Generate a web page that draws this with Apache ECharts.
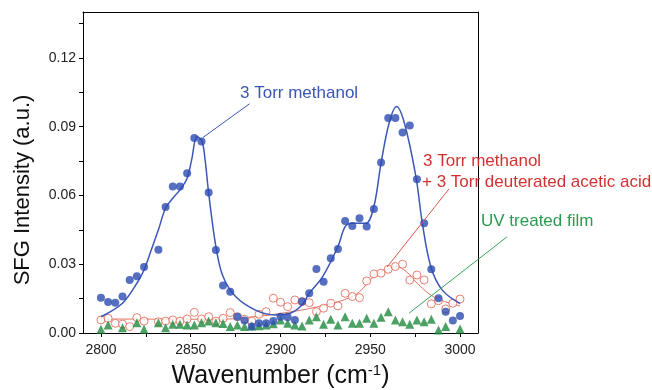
<!DOCTYPE html>
<html>
<head>
<meta charset="utf-8">
<script src="https://cdn.jsdelivr.net/npm/echarts@6/dist/echarts.min.js"></script>
<style>
  html, body { margin: 0; padding: 0; background: #fff; }
  #chart { width: 652px; height: 390px; }
</style>
</head>
<body>
<div id="chart"></div>
<script>
// 3 Torr methanol: points and fit
const methanolX = [2800, 2804, 2808, 2812, 2816, 2820, 2824, 2832, 2836, 2840, 2844, 2848, 2852, 2856, 2860, 2864, 2868, 2872, 2876, 2880, 2884, 2888, 2892, 2896, 2900, 2904, 2908, 2912, 2916, 2920, 2924, 2928, 2932, 2936, 2940, 2944, 2948, 2952, 2956, 2960, 2964, 2968, 2972, 2976, 2980, 2984, 2988, 2992, 2996, 3000];
const methanolY = [0.0154, 0.0135, 0.0132, 0.0159, 0.0231, 0.0247, 0.0288, 0.0363, 0.0550, 0.0639, 0.0639, 0.0697, 0.0850, 0.0835, 0.0613, 0.0362, 0.0207, 0.0180, 0.0071, 0.0054, 0.0028, 0.0042, 0.0042, 0.0052, 0.0071, 0.0069, 0.0057, 0.0137, 0.0173, 0.0279, 0.0224, 0.0326, 0.0366, 0.0489, 0.0467, 0.0501, 0.0464, 0.0541, 0.0744, 0.0938, 0.0938, 0.0875, 0.0905, 0.0671, 0.0479, 0.0278, 0.0152, 0.0093, 0.0054, 0.0074];
const methanolFitX = [2800, 2812, 2820, 2824, 2828, 2832, 2836, 2840, 2844, 2848, 2850.5, 2853.5, 2856.3, 2858, 2860, 2864, 2868, 2875, 2886, 2897, 2905, 2912, 2916, 2923.5, 2932, 2936, 2940, 2947.5, 2952, 2956, 2960.5, 2964.6, 2969, 2975.4, 2979, 2983.7, 2990, 3000];
const methanolFitY = [0.0071, 0.0130, 0.0217, 0.0275, 0.0362, 0.0450, 0.0545, 0.0588, 0.0624, 0.0675, 0.0755, 0.0857, 0.0835, 0.0755, 0.0610, 0.0377, 0.0246, 0.0159, 0.0100, 0.0079, 0.0085, 0.0122, 0.0173, 0.0246, 0.0377, 0.0464, 0.0479, 0.0479, 0.0552, 0.0741, 0.0916, 0.0988, 0.0916, 0.0683, 0.0479, 0.0290, 0.0188, 0.0128];

// 3 Torr methanol + 3 Torr deuterated acetic acid
const mixX = [2800, 2804, 2808, 2812, 2816, 2820, 2824, 2832, 2836, 2840, 2844, 2848, 2852, 2856, 2860, 2864, 2868, 2872, 2876, 2880, 2884, 2888, 2892, 2896, 2900, 2904, 2908, 2912, 2916, 2920, 2924, 2928, 2932, 2936, 2940, 2944, 2948, 2952, 2956, 2960, 2964, 2968, 2972, 2976, 2980, 2984, 2988, 2992, 2996, 3000];
const mixY = [0.0057, 0.0064, 0.0042, 0.0039, 0.0028, 0.0067, 0.0052, 0.0049, 0.0052, 0.0057, 0.0052, 0.0061, 0.0090, 0.0061, 0.0071, 0.0052, 0.0064, 0.0089, 0.0071, 0.0060, 0.0052, 0.0082, 0.0093, 0.0152, 0.0134, 0.0115, 0.0144, 0.0137, 0.0132, 0.0093, 0.0108, 0.0130, 0.0118, 0.0173, 0.0159, 0.0154, 0.0227, 0.0258, 0.0261, 0.0278, 0.0290, 0.0300, 0.0231, 0.0253, 0.0231, 0.0127, 0.0141, 0.0105, 0.0130, 0.0148];
const mixFitX = [2800, 2866, 2885, 2903, 2921, 2938, 2944, 2952, 2960.5, 2964, 2970, 2977, 2985, 2994, 3000];
const mixFitY = [0.0061, 0.0060, 0.0071, 0.0089, 0.0115, 0.0152, 0.0180, 0.0246, 0.0283, 0.0290, 0.0268, 0.0210, 0.0159, 0.0130, 0.0118];

// UV treated film
const uvX = [2800, 2804, 2812, 2820, 2824, 2832, 2836, 2840, 2844, 2848, 2852, 2856, 2860, 2864, 2868, 2872, 2876, 2880, 2884, 2888, 2892, 2896, 2900, 2904, 2908, 2912, 2916, 2920, 2924, 2928, 2932, 2936, 2940, 2944, 2948, 2952, 2956, 2960, 2964, 2968, 2972, 2976, 2980, 2984, 2988, 2992, 3000];
const uvY = [0.0016, 0.0035, 0.0023, 0.0045, 0.0016, 0.0045, 0.0023, 0.0038, 0.0038, 0.0035, 0.0035, 0.0045, 0.0052, 0.0045, 0.0041, 0.0028, 0.0035, 0.0028, 0.0030, 0.0032, 0.0035, 0.0040, 0.0057, 0.0042, 0.0035, 0.0031, 0.0057, 0.0071, 0.0038, 0.0060, 0.0035, 0.0071, 0.0042, 0.0042, 0.0064, 0.0042, 0.0069, 0.0093, 0.0057, 0.0049, 0.0038, 0.0057, 0.0049, 0.0060, 0.0013, 0.0028, 0.0017];

// ticks (major ones get labels, minor ones only a tick)
const xTicks = [2800, 2850, 2900, 2950, 3000];
const xMinorTicks = [2825, 2875, 2925, 2975];
const yTicks = [0, 0.03, 0.06, 0.09, 0.12];
const yMinorTicks = [0.015, 0.045, 0.075, 0.105, 0.135];

// annotation leader lines, [start, end] in data units
const methanolLeader = [[2882.8, 0.1000], [2856.7, 0.0852]];
const mixLeader = [[2993.9, 0.0629], [2959.4, 0.0288]];
const uvLeader = [[3026.1, 0.0419], [2971.7, 0.0087]];

const BLUE = "#2c4bb0";
const BLUE_LINE = "#3c57b8";
const RED = "#e5604e";
const RED_TEXT = "#d33131";
const GREEN = "#1f8a3e";
const GREEN_TEXT = "#2a9a4e";
const FONT = "Liberation Sans, Arial, sans-serif";

const zip = (xs, ys) => xs.map((x, i) => [x, ys[i]]);

const chart = echarts.init(document.getElementById("chart"), null, { renderer: "canvas" });

const axisFont = { color: "#222", fontSize: 14, fontFamily: FONT };
const black = { color: "#000", width: 1 };

const option = {
  animation: false,
  backgroundColor: "#fff",
  grid: { left: 83, right: 174, top: 12, bottom: 57, outerBoundsMode: "none", containLabel: false },
  xAxis: [
    {
      type: "value", min: 2790, max: 3010, position: "bottom",
      axisLine: { show: true, onZero: false, lineStyle: black },
      axisTick: { show: true, length: 4, lineStyle: black, customValues: xTicks.concat(xMinorTicks) },
      axisLabel: { show: true, margin: 10, customValues: xTicks, formatter: v => String(v), ...axisFont },
      splitLine: { show: false },
      name: "Wavenumber (cm{sup|-1})",
      nameLocation: "middle",
      nameGap: 30,
      nameTextStyle: {
        color: "#111", fontSize: 25, fontFamily: FONT,
        rich: { sup: { fontSize: 15, verticalAlign: "top", padding: [0, 0, 12, 0], color: "#111", fontFamily: FONT } }
      }
    },
    {
      type: "value", min: 2790, max: 3010, position: "top",
      axisLine: { show: true, onZero: false, lineStyle: black },
      axisTick: { show: false }, axisLabel: { show: false }, splitLine: { show: false }
    }
  ],
  yAxis: [
    {
      type: "value", min: 0, max: 0.14, position: "left",
      axisLine: { show: true, onZero: false, lineStyle: black },
      axisTick: { show: true, length: 4, lineStyle: black, customValues: yTicks.concat(yMinorTicks) },
      axisLabel: { show: true, margin: 7, customValues: yTicks, formatter: v => v.toFixed(2), ...axisFont },
      splitLine: { show: false }
    },
    {
      type: "value", min: 0, max: 0.14, position: "right",
      axisLine: { show: true, onZero: false, lineStyle: black },
      axisTick: { show: false }, axisLabel: { show: false }, splitLine: { show: false }
    }
  ],
  series: [
    {
      name: "mix fit", type: "line", smooth: 0.4, symbol: "none",
      lineStyle: { color: "#e2735f", width: 1 },
      data: zip(mixFitX, mixFitY), z: 2
    },
    {
      name: "mix", type: "scatter", symbol: "circle", symbolSize: 8,
      itemStyle: { color: "#fff", borderColor: RED, borderWidth: 1 },
      data: zip(mixX, mixY), z: 3
    },
    {
      name: "uv", type: "scatter", symbol: "triangle", symbolSize: 9,
      itemStyle: { color: GREEN },
      data: zip(uvX, uvY), z: 3
    },
    {
      name: "methanol fit", type: "line", smooth: 0.35, symbol: "none",
      lineStyle: { color: BLUE_LINE, width: 1.5 },
      data: zip(methanolFitX, methanolFitY), z: 4
    },
    {
      name: "methanol", type: "scatter", symbol: "circle", symbolSize: 8,
      itemStyle: { color: BLUE },
      data: zip(methanolX, methanolY), z: 5
    }
  ]
};

chart.setOption(option);

// labels and leader lines
const px = p => chart.convertToPixel({ xAxisIndex: 0, yAxisIndex: 0 }, p);
const leader = (pts, color) => {
  const a = px(pts[0]);
  const b = px(pts[1]);
  return {
    type: "line", z: 10,
    shape: { x1: a[0], y1: a[1], x2: b[0], y2: b[1] },
    style: { stroke: color, lineWidth: 1 }
  };
};
const label = (text, x, y, color) => ({
  type: "text", z: 10, x, y,
  style: { text, fill: color, fontSize: 17, fontFamily: FONT, verticalAlign: "middle" }
});

chart.setOption({
  graphic: [
    leader(methanolLeader, BLUE_LINE),
    leader(mixLeader, "#e0584a"),
    leader(uvLeader, "#35a45a"),
    label("3 Torr methanol", 240, 93, "#3a55b8"),
    label("3 Torr methanol", 423, 161, RED_TEXT),
    label("+ 3 Torr deuterated acetic acid", 422, 182, RED_TEXT),
    label("UV treated film", 481, 221, GREEN_TEXT),
    {
      // y axis title
      type: "text", z: 10, x: 23, y: 190, rotation: Math.PI / 2,
      style: { text: "SFG Intensity (a.u.)", fill: "#111", fontSize: 22, fontFamily: FONT, align: "center", verticalAlign: "middle" }
    }
  ]
});
</script>
</body>
</html>
